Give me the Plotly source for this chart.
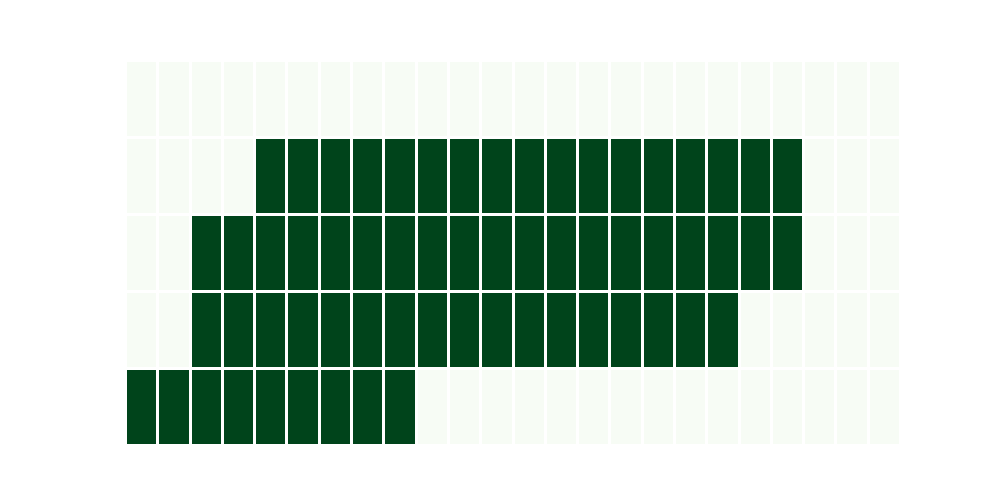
import plotly.graph_objects as go

hours = [str(h) for h in range(24)]
rows = ["Row 1", "Row 2", "Row 3", "Row 4", "Row 5"]

row1 = [0] * 24
row2 = [0, 0, 0, 0] + [1] * 17 + [0, 0, 0]
row3 = [0, 0] + [1] * 19 + [0, 0, 0]
row4 = [0, 0] + [1] * 17 + [0] * 5
row5 = [1] * 9 + [0] * 15

z = [row1, row2, row3, row4, row5]

fig = go.Figure(go.Heatmap(
    z=z, x=hours, y=rows,
    colorscale="Greens", zmin=0, zmax=1,
    xgap=3, ygap=3, showscale=False,
))
fig.update_layout(
    width=1000, height=500,
    margin=dict(l=118, r=107, t=53, b=62),
    plot_bgcolor="white", paper_bgcolor="white",
    xaxis=dict(showticklabels=False, showgrid=False, zeroline=False, ticks=""),
    yaxis=dict(showticklabels=False, showgrid=False, zeroline=False, ticks="", autorange="reversed"),
)
fig.write_html("out.html")
